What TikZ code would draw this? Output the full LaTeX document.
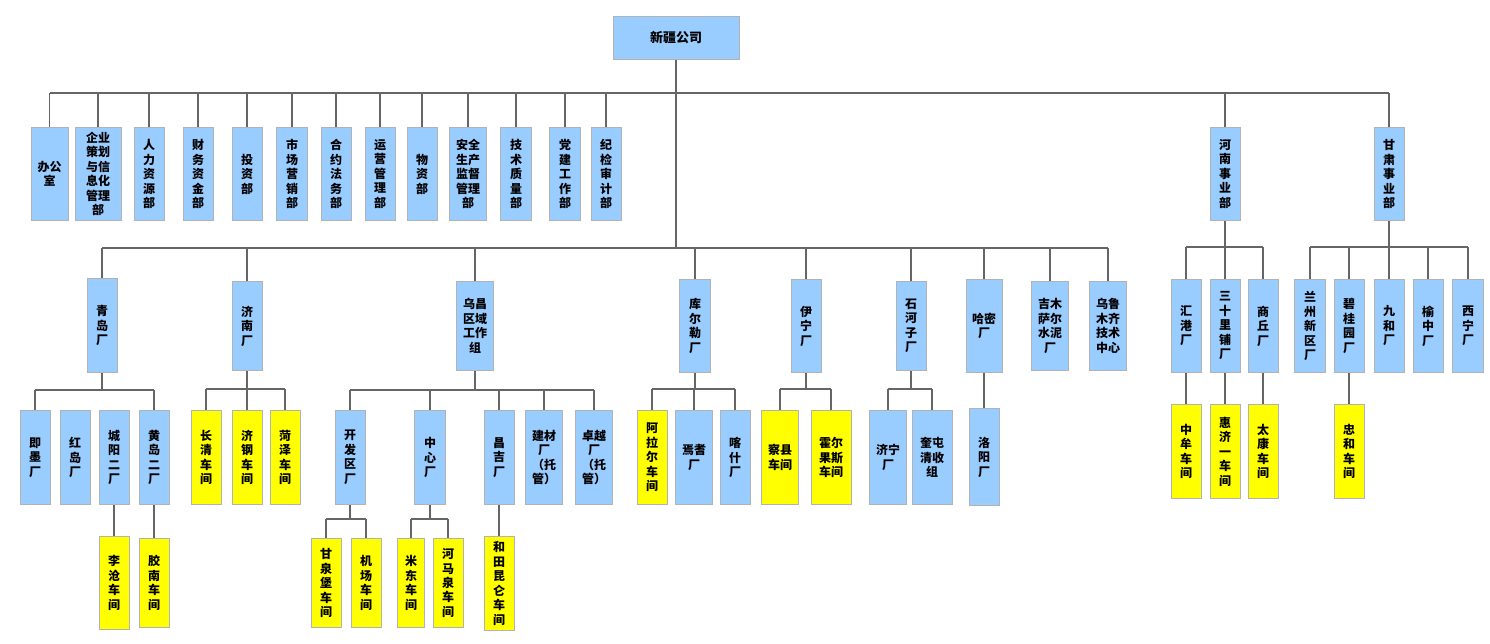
\documentclass[tikz,border=0pt]{standalone}
\usepackage{fontspec}
\setmainfont{Noto Sans CJK SC}
\usepackage{tikz}
\definecolor{blu}{HTML}{99CCFF}
\definecolor{yel}{HTML}{FFFF00}
\begin{document}
\begin{tikzpicture}[x=1pt,y=-1pt,box/.style={draw=black!30,line width=1pt,fill=blu,align=center,font=\bfseries\fontsize{12}{14.5}\selectfont,minimum width=30pt,minimum height=93pt,inner sep=1pt,anchor=north},ybox/.style={box,fill=yel},ln/.style={draw=black!60,line width=1.5pt}]
\useasboundingbox (0,0) rectangle (1490,643);
% 总部及职能部门
\node[box,minimum width=126pt,minimum height=43pt,font=\bfseries\fontsize{13}{15}\selectfont] (hq) at (676,16) {新疆公司};
\node[box,minimum width=37pt] (bgs) at (49.5,127) {办公\\室};
\node[box,minimum width=46pt] (qy) at (98,127) {企业\\策划\\与信\\息化\\管理\\部};
\node[box] (rl) at (149,127) {人\\力\\资\\源\\部};
\node[box] (cw) at (198,127) {财\\务\\资\\金\\部};
\node[box] (tz) at (247,127) {投\\资\\部};
\node[box,minimum width=31pt] (sc) at (292,127) {市\\场\\营\\销\\部};
\node[box] (hy) at (336,127) {合\\约\\法\\务\\部};
\node[box] (yy) at (380,127) {运\\营\\管\\理\\部};
\node[box] (wz) at (422,127) {物\\资\\部};
\node[box,minimum width=37pt] (aq) at (468,127) {安全\\生产\\监督\\管理\\部};
\node[box,minimum width=31pt] (js) at (516,127) {技\\术\\质\\量\\部};
\node[box,minimum width=31pt] (dj) at (565,127) {党\\建\\工\\作\\部};
\node[box] (jj) at (606,127) {纪\\检\\审\\计\\部};
\node[box] (hn) at (1225,127) {河\\南\\事\\业\\部};
\node[box] (gs) at (1389,127) {甘\\肃\\事\\业\\部};
% 直属厂
\node[box,minimum height=94pt] (qd) at (102,278) {青\\岛\\厂};
\node[box,minimum height=89pt] (jn) at (247,281) {济\\南\\厂};
\node[box,minimum height=89pt,minimum width=37pt] (wc) at (475,281) {乌昌\\区域\\工作\\组};
\node[box,minimum width=31pt] (kel) at (695,279) {库\\尔\\勒\\厂};
\node[box] (yn) at (806,279) {伊\\宁\\厂};
\node[box,minimum height=89pt] (shz) at (911,281) {石\\河\\子\\厂};
\node[box,minimum width=36pt] (hm) at (984,279) {哈密\\厂};
\node[box,minimum height=89pt,minimum width=37pt] (jmsr) at (1050,281) {吉木\\萨尔\\水泥\\厂};
\node[box,minimum height=89pt,minimum width=37pt] (wljs) at (1108,281) {乌鲁\\木齐\\技术\\中心};
\node[box] (hg) at (1186,279) {汇\\港\\厂};
\node[box] (slp) at (1225,279) {三\\十\\里\\铺\\厂};
\node[box] (sq) at (1263,279) {商\\丘\\厂};
\node[box,minimum width=31pt] (lz) at (1310,279) {兰\\州\\新\\区\\厂};
\node[box] (bgy) at (1349,279) {碧\\桂\\园\\厂};
\node[box] (jh) at (1389,279) {九\\和\\厂};
\node[box] (yz) at (1428,279) {榆\\中\\厂};
\node[box,minimum width=31pt] (xn) at (1468,279) {西\\宁\\厂};
% 下属厂及车间
\node[box,minimum height=94pt] (jimo) at (35,410) {即\\墨\\厂};
\node[box,minimum height=94pt] (hd) at (75,410) {红\\岛\\厂};
\node[box,minimum height=94pt] (cy) at (114,410) {城\\阳\\二\\厂};
\node[box,minimum height=94pt] (hd2) at (154,410) {黄\\岛\\二\\厂};
\node[ybox,minimum height=94pt] (cq) at (206,410) {长\\清\\车\\间};
\node[ybox,minimum height=94pt] (jg) at (247,410) {济\\钢\\车\\间};
\node[ybox,minimum height=94pt] (hz) at (285,410) {菏\\泽\\车\\间};
\node[box,minimum height=94pt] (kfq) at (350,410) {开\\发\\区\\厂};
\node[box,minimum height=94pt,minimum width=31pt] (zx) at (430,410) {中\\心\\厂};
\node[box,minimum height=94pt] (cj) at (499,410) {昌\\吉\\厂};
\node[box,minimum height=94pt,minimum width=37pt] (jc) at (544,410) {建材\\厂\\（托\\管）};
\node[box,minimum height=94pt,minimum width=37pt] (zy) at (594,410) {卓越\\厂\\（托\\管）};
\node[ybox,minimum height=94pt] (ale) at (652,410) {阿\\拉\\尔\\车\\间};
\node[box,minimum height=94pt,minimum width=37pt] (yq) at (694,410) {焉耆\\厂};
\node[box,minimum height=94pt] (ks) at (735,410) {喀\\什\\厂};
\node[ybox,minimum height=94pt,minimum width=37pt] (cx) at (780,410) {察县\\车间};
\node[ybox,minimum height=94pt,minimum width=40pt] (hegs) at (831,410) {霍尔\\果斯\\车间};
\node[box,minimum height=94pt,minimum width=37pt] (jnc) at (888,410) {济宁\\厂};
\node[box,minimum height=94pt,minimum width=40pt] (kt) at (932,410) {奎屯\\清收\\组};
\node[box,minimum height=97pt] (ly) at (984,408) {洛\\阳\\厂};
\node[ybox,minimum height=94pt] (zm) at (1186,404) {中\\牟\\车\\间};
\node[ybox,minimum height=94pt] (hj) at (1225,404) {惠\\济\\一\\车\\间};
\node[ybox,minimum height=94pt] (tk) at (1263,404) {太\\康\\车\\间};
\node[ybox,minimum height=94pt] (zh) at (1349,404) {忠\\和\\车\\间};
\node[ybox] (lc) at (114,536) {李\\沧\\车\\间};
\node[ybox,minimum height=89pt] (jnan) at (154,538) {胶\\南\\车\\间};
\node[ybox,minimum height=89pt] (gqb) at (326,538) {甘\\泉\\堡\\车\\间};
\node[ybox,minimum height=89pt] (jcc) at (366,538) {机\\场\\车\\间};
\node[ybox,minimum height=89pt,minimum width=27pt] (md) at (411,538) {米\\东\\车\\间};
\node[ybox,minimum height=89pt] (hmq) at (448,538) {河\\马\\泉\\车\\间};
\node[ybox,minimum height=94pt] (htkl) at (499,536) {和\\田\\昆\\仑\\车\\间};
% 连线
\coordinate (y1) at (0,93);\coordinate (y2) at (0,248);\coordinate (y3) at (0,247);
\coordinate (y4) at (0,390);\coordinate (y5) at (0,389);\coordinate (y6) at (0,519);
\draw[ln] (hq.south)--(hq.south|-y2);
\draw[ln] (bgs.north|-y1)--(gs.north|-y1);
\foreach \n in {bgs,qy,rl,cw,tz,sc,hy,yy,wz,aq,js,dj,jj,hn,gs} \draw[ln] (\n.north)--(\n.north|-y1);
\draw[ln] (qd.north|-y2)--(wljs.north|-y2);
\foreach \n in {qd,jn,wc,kel,yn,shz,hm,jmsr,wljs} \draw[ln] (\n.north)--(\n.north|-y2);
\draw[ln] (hn.south)--(hn.south|-y3);\draw[ln] (hg.north|-y3)--(sq.north|-y3);
\foreach \n in {hg,slp,sq} \draw[ln] (\n.north)--(\n.north|-y3);
\draw[ln] (gs.south)--(gs.south|-y3);\draw[ln] (lz.north|-y3)--(xn.north|-y3);
\foreach \n in {lz,bgy,jh,yz,xn} \draw[ln] (\n.north)--(\n.north|-y3);
\draw[ln] (qd.south)--(qd.south|-y4);\draw[ln] (jimo.north|-y4)--(hd2.north|-y4);
\foreach \n in {jimo,hd2} \draw[ln] (\n.north)--(\n.north|-y4);
\draw[ln] (jn.south)--(jn.south|-y5);\draw[ln] (cq.north|-y5)--(hz.north|-y5);
\foreach \n in {cq,jg,hz} \draw[ln] (\n.north)--(\n.north|-y5);
\draw[ln] (wc.south)--(wc.south|-y4);\draw[ln] (kfq.north|-y4)--(zy.north|-y4);
\foreach \n in {kfq,zx,cj,jc,zy} \draw[ln] (\n.north)--(\n.north|-y4);
\draw[ln] (kel.south)--(kel.south|-y5);\draw[ln] (ale.north|-y5)--(ks.north|-y5);
\foreach \n in {ale,yq,ks} \draw[ln] (\n.north)--(\n.north|-y5);
\draw[ln] (yn.south)--(yn.south|-y5);\draw[ln] (cx.north|-y5)--(hegs.north|-y5);
\foreach \n in {cx,hegs} \draw[ln] (\n.north)--(\n.north|-y5);
\draw[ln] (shz.south)--(shz.south|-y5);\draw[ln] (jnc.north|-y5)--(kt.north|-y5);
\foreach \n in {jnc,kt} \draw[ln] (\n.north)--(\n.north|-y5);
\draw[ln] (hm)--(ly);\draw[ln] (hg)--(zm);\draw[ln] (slp)--(hj);\draw[ln] (sq)--(tk);\draw[ln] (bgy)--(zh);
\draw[ln] (cy)--(lc);\draw[ln] (hd2)--(jnan);\draw[ln] (cj)--(htkl);
\draw[ln] (kfq.south)--(kfq.south|-y6);\draw[ln] (gqb.north|-y6)--(jcc.north|-y6);
\foreach \n in {gqb,jcc} \draw[ln] (\n.north)--(\n.north|-y6);
\draw[ln] (zx.south)--(zx.south|-y6);\draw[ln] (md.north|-y6)--(hmq.north|-y6);
\foreach \n in {md,hmq} \draw[ln] (\n.north)--(\n.north|-y6);
\end{tikzpicture}
\end{document}
